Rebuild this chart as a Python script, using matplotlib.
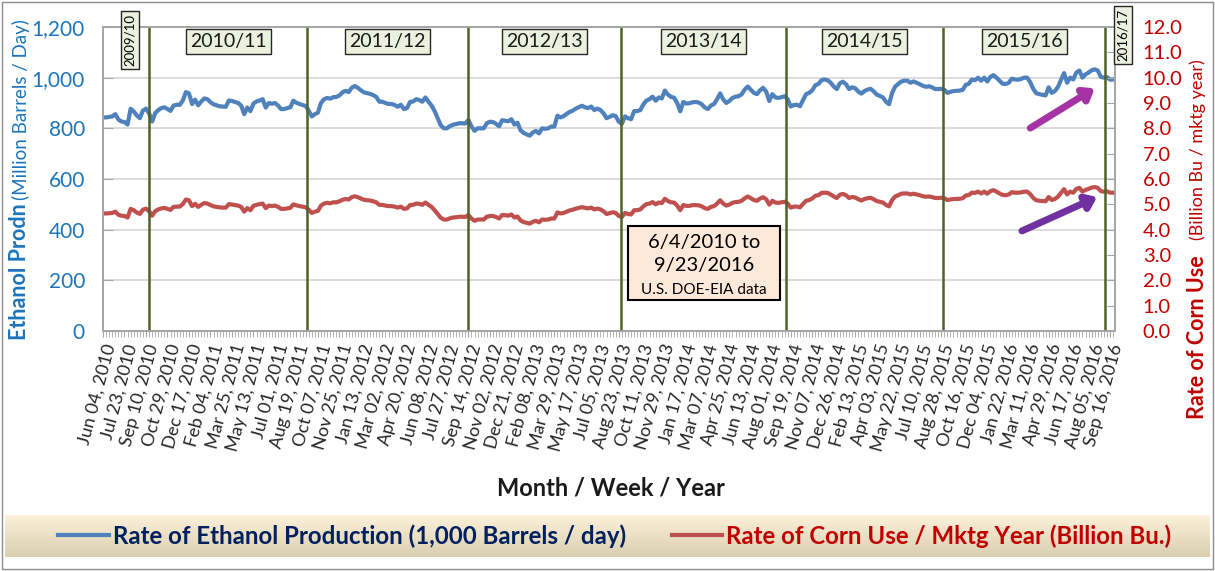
import numpy as np
import matplotlib.pyplot as plt
import matplotlib.ticker as mticker
from matplotlib.patches import Rectangle
from matplotlib.transforms import blended_transform_factory

plt.rcParams['font.family'] = ['Lato', 'DejaVu Sans']

# weekly ethanol production, 1,000 barrels / day (Jun 04 2010 .. Sep 23 2016)
ethanol = [
    843, 843, 845, 847, 856, 835, 827, 825, 815, 877,
    867, 851, 840, 870, 878, 860, 827, 860, 872, 880,
    883, 876, 869, 890, 893, 893, 910, 943, 938, 896,
    913, 891, 906, 918, 915, 903, 895, 891, 887, 886,
    885, 910, 908, 904, 900, 890, 856, 882, 868, 898,
    906, 910, 915, 882, 900, 897, 900, 890, 876, 876,
    880, 883, 909, 901, 896, 892, 888, 870, 847, 856,
    862, 900, 915, 920, 917, 923, 924, 930, 942, 948,
    943, 960, 967, 960, 950, 942, 939, 936, 931, 924,
    905, 905, 900, 896, 896, 892, 885, 893, 876, 880,
    904, 906, 915, 912, 905, 922, 905, 890, 868, 840,
    812, 800, 800, 809, 814, 817, 820, 820, 819, 833,
    808, 790, 800, 800, 800, 820, 826, 825, 818, 808,
    832, 830, 828, 836, 815, 822, 792, 782, 776, 771,
    784, 790, 780, 800, 798, 800, 807, 807, 850, 843,
    848, 857, 865, 870, 878, 884, 889, 883, 880, 886,
    872, 878, 872, 860, 840, 845, 852, 848, 826, 818,
    847, 840, 836, 868, 868, 872, 895, 910, 915, 925,
    909, 922, 918, 949, 933, 924, 921, 900, 867, 904,
    898, 899, 903, 904, 902, 895, 882, 876, 890, 896,
    915, 938, 914, 900, 908, 920, 925, 927, 934, 953,
    965, 952, 940, 935, 950, 960, 945, 908, 935, 922,
    920, 923, 927, 915, 886, 892, 893, 887, 912, 935,
    940, 950, 970, 975, 990, 993, 990, 980, 965, 955,
    978, 984, 974, 955, 962, 958, 945, 937, 947, 953,
    956, 946, 933, 928, 922, 905, 895, 940, 965, 975,
    985, 988, 988, 980, 985, 980, 974, 968, 964, 966,
    962, 955, 955, 956, 952, 940, 944, 947, 948, 949,
    952, 972, 976, 993, 990, 1000, 988, 1000, 985, 1003,
    1010, 1000, 988, 976, 975, 980, 996, 993, 992, 995,
    1000, 1000, 982, 955, 938, 935, 932, 930, 962, 940,
    947, 963, 990, 1018, 980, 1000, 993, 1020, 1028, 1000,
    1013, 1020, 1029, 1033, 1028, 1003, 1000, 1002, 992, 993,
]

# corn use rate, billion bushels / marketing year
corn_use = [
    4.64, 4.64, 4.65, 4.66, 4.71, 4.59, 4.55, 4.54, 4.48, 4.82,
    4.77, 4.68, 4.62, 4.79, 4.83, 4.73, 4.55, 4.73, 4.80, 4.84,
    4.86, 4.82, 4.78, 4.90, 4.91, 4.91, 5.01, 5.19, 5.16, 4.93,
    5.02, 4.90, 4.98, 5.05, 5.03, 4.97, 4.92, 4.90, 4.88, 4.87,
    4.87, 5.01, 4.99, 4.97, 4.95, 4.90, 4.71, 4.85, 4.77, 4.94,
    4.98, 5.01, 5.03, 4.85, 4.95, 4.93, 4.95, 4.90, 4.82, 4.82,
    4.84, 4.86, 5.00, 4.96, 4.93, 4.91, 4.88, 4.79, 4.66, 4.71,
    4.74, 4.95, 5.03, 5.06, 5.04, 5.08, 5.08, 5.12, 5.18, 5.21,
    5.19, 5.28, 5.32, 5.28, 5.23, 5.18, 5.16, 5.15, 5.12, 5.08,
    4.98, 4.98, 4.95, 4.93, 4.93, 4.91, 4.87, 4.91, 4.82, 4.84,
    4.97, 4.98, 5.03, 5.02, 4.98, 5.07, 4.98, 4.90, 4.77, 4.62,
    4.47, 4.40, 4.40, 4.45, 4.48, 4.49, 4.51, 4.51, 4.50, 4.58,
    4.44, 4.35, 4.40, 4.40, 4.40, 4.51, 4.54, 4.54, 4.50, 4.44,
    4.58, 4.57, 4.55, 4.60, 4.48, 4.52, 4.36, 4.30, 4.27, 4.24,
    4.31, 4.35, 4.29, 4.40, 4.39, 4.40, 4.44, 4.44, 4.68, 4.64,
    4.66, 4.71, 4.76, 4.79, 4.83, 4.86, 4.89, 4.86, 4.84, 4.87,
    4.80, 4.83, 4.80, 4.73, 4.62, 4.65, 4.69, 4.66, 4.54, 4.50,
    4.66, 4.62, 4.60, 4.77, 4.77, 4.80, 4.92, 5.01, 5.03, 5.09,
    5.00, 5.07, 5.05, 5.22, 5.13, 5.08, 5.07, 4.95, 4.77, 4.97,
    4.94, 4.94, 4.97, 4.97, 4.96, 4.92, 4.85, 4.82, 4.90, 4.93,
    5.03, 5.16, 5.03, 4.95, 4.99, 5.06, 5.09, 5.10, 5.14, 5.24,
    5.31, 5.24, 5.17, 5.14, 5.23, 5.28, 5.20, 4.99, 5.14, 5.07,
    5.06, 5.08, 5.10, 5.03, 4.87, 4.91, 4.91, 4.88, 5.02, 5.14,
    5.17, 5.23, 5.34, 5.36, 5.45, 5.46, 5.45, 5.39, 5.31, 5.25,
    5.38, 5.41, 5.36, 5.25, 5.29, 5.27, 5.20, 5.15, 5.21, 5.24,
    5.26, 5.20, 5.13, 5.10, 5.07, 4.98, 4.92, 5.17, 5.31, 5.36,
    5.42, 5.43, 5.43, 5.39, 5.42, 5.39, 5.36, 5.32, 5.30, 5.31,
    5.29, 5.25, 5.25, 5.26, 5.24, 5.17, 5.19, 5.21, 5.21, 5.22,
    5.24, 5.35, 5.37, 5.46, 5.45, 5.50, 5.43, 5.50, 5.42, 5.52,
    5.56, 5.50, 5.43, 5.37, 5.36, 5.39, 5.48, 5.46, 5.46, 5.47,
    5.50, 5.50, 5.40, 5.25, 5.16, 5.14, 5.13, 5.12, 5.29, 5.17,
    5.21, 5.30, 5.45, 5.60, 5.39, 5.50, 5.46, 5.61, 5.65, 5.50,
    5.57, 5.61, 5.66, 5.68, 5.65, 5.52, 5.50, 5.51, 5.46, 5.46,
]

tick_labels = [
    'Jun 04, 2010', 'Jul 23, 2010', 'Sep 10, 2010', 'Oct 29, 2010', 'Dec 17, 2010',
    'Feb 04, 2011', 'Mar 25, 2011', 'May 13, 2011', 'Jul 01, 2011', 'Aug 19, 2011',
    'Oct 07, 2011', 'Nov 25, 2011', 'Jan 13, 2012', 'Mar 02, 2012', 'Apr 20, 2012',
    'Jun 08, 2012', 'Jul 27, 2012', 'Sep 14, 2012', 'Nov 02, 2012', 'Dec 21, 2012',
    'Feb 08, 2013', 'Mar 29, 2013', 'May 17, 2013', 'Jul 05, 2013', 'Aug 23, 2013',
    'Oct 11, 2013', 'Nov 29, 2013', 'Jan 17, 2014', 'Mar 07, 2014', 'Apr 25, 2014',
    'Jun 13, 2014', 'Aug 01, 2014', 'Sep 19, 2014', 'Nov 07, 2014', 'Dec 26, 2014',
    'Feb 13, 2015', 'Apr 03, 2015', 'May 22, 2015', 'Jul 10, 2015', 'Aug 28, 2015',
    'Oct 16, 2015', 'Dec 04, 2015', 'Jan 22, 2016', 'Mar 11, 2016', 'Apr 29, 2016',
    'Jun 17, 2016', 'Aug 05, 2016', 'Sep 16, 2016',
]
tick_weeks = list(range(0, 323, 7)) + [328]

# marketing-year boundaries (week index) and labels
boundary_weeks = [15.0, 66.5, 119.0, 168.8, 222.5, 273.6, 326.4]
year_labels = ['2010/11', '2011/12', '2012/13', '2013/14', '2014/15', '2015/16']

W, H = 1215, 571
fig = plt.figure(figsize=(W / 100, H / 100), dpi=100)

# outer frame
fig.add_artist(Rectangle((0.002, 0.003), 0.996, 0.993, transform=fig.transFigure,
                         fill=False, edgecolor='#8C8C8C', lw=1))

ax = fig.add_axes([103 / W, 1 - 331 / H, (1115 - 103) / W, (331 - 27) / H])
ax2 = ax.twinx()

x = np.arange(len(ethanol))
l1, = ax.plot(x, ethanol, color='#4F81BD', lw=3, solid_joinstyle='round')
l2, = ax2.plot(x, corn_use, color='#C0504D', lw=3, solid_joinstyle='round')

ax.set_xlim(0, 329.6)
ax.set_ylim(0, 1200)
ax2.set_ylim(0, 12)

ax.set_yticks(range(0, 1201, 200))
ax.yaxis.set_major_formatter(mticker.FuncFormatter(lambda v, p: f'{int(v):,}'))
ax2.set_yticks(range(0, 13))
ax2.yaxis.set_major_formatter(mticker.FormatStrFormatter('%.1f'))

ax.yaxis.grid(True, color='#D9D9D9', lw=1.3)
ax.set_axisbelow(True)

ax.set_xticks(tick_weeks)
ax.set_xticklabels(tick_labels, rotation=75, ha='right', va='top',
                   rotation_mode='anchor', fontsize=13, color='#262626')
ax.xaxis.set_minor_locator(mticker.MultipleLocator(1))
ax.tick_params(axis='x', which='both', direction='out', length=4,
               color='#A6A6A6', pad=4)
ax.tick_params(axis='y', direction='in', length=7, color='#A6A6A6',
               labelcolor='#1C75BC', labelsize=15, pad=13)
ax2.tick_params(axis='y', direction='in', length=6, color='#A6A6A6',
                labelcolor='#C00000', labelsize=14.5, pad=20)
for a in (ax, ax2):
    for s in a.spines.values():
        s.set_color('#A6A6A6')
        s.set_linewidth(1.3)

for b in boundary_weeks:
    ax2.axvline(b, color='#4F6228', lw=1.8, zorder=2.5)

trans = blended_transform_factory(ax.transData, ax.transAxes)
box = dict(boxstyle='square,pad=0.22', fc='#EBF1DE', ec='#262626', lw=1)
for i, lab in enumerate(year_labels):
    mid = (boundary_weeks[i] + boundary_weeks[i + 1]) / 2
    ax2.text(mid, 0.952, lab, transform=trans, ha='center', va='center',
             fontsize=14, color='#1a1a1a', bbox=box, zorder=6)
ax2.text(boundary_weeks[0] - 6.2, 0.958, '2009/10', transform=trans, rotation=90,
         ha='center', va='center', fontsize=9.5, bbox=box, zorder=6, clip_on=False)
ax2.text(boundary_weeks[-1] + 5.8, 0.973, '2016/17', transform=trans, rotation=90,
         ha='center', va='center', fontsize=9.5, bbox=box, zorder=6, clip_on=False)

# trend arrows
ax.annotate('', xy=(323, 958), xytext=(302, 801),
            arrowprops=dict(arrowstyle='-|>,head_length=0.6,head_width=0.45',
                            color='#A633A6', lw=5, shrinkA=0, shrinkB=0))
ax.annotate('', xy=(323.8, 529), xytext=(299.3, 395),
            arrowprops=dict(arrowstyle='-|>,head_length=0.6,head_width=0.45',
                            color='#7030A0', lw=5, shrinkA=0, shrinkB=0))

# source note box
fig.add_artist(Rectangle((628 / W, 1 - 300 / H), 152 / W, 74 / H, transform=fig.transFigure,
                         facecolor='#FDE9D9', edgecolor='black', lw=1.5, zorder=5))
fig.text(704 / W, 1 - 242 / H, '6/4/2010 to', ha='center', va='center', fontsize=14.5, zorder=6)
fig.text(704 / W, 1 - 266 / H, '9/23/2016', ha='center', va='center', fontsize=14.5, zorder=6)
fig.text(704 / W, 1 - 290 / H, 'U.S. DOE-EIA data', ha='center', va='center', fontsize=11, zorder=6)

# axis titles
fig.text(20 / W, 1 - 272 / H, 'Ethanol Prodn', rotation=90, ha='center', va='center',
         fontsize=15.5, fontweight='bold', color='#1C75BC')
fig.text(21 / W, 1 - 110 / H, '(Million Barrels / Day)', rotation=90, ha='center', va='center',
         fontsize=13.5, color='#1C75BC')
fig.text(1198 / W, 1 - 337 / H, 'Rate of Corn Use', rotation=90, ha='center', va='center',
         fontsize=15.5, fontweight='bold', color='#C00000')
fig.text(1198 / W, 1 - 150 / H, '(Billion Bu / mktg year)', rotation=90, ha='center', va='center',
         fontsize=13, color='#C00000')
fig.text(611 / W, 1 - 488 / H, 'Month / Week / Year', ha='center', va='center',
         fontsize=17, fontweight='bold', color='#1a1a1a')

# legend band with gradient
lax = fig.add_axes([5 / W, 1 - 557 / H, 1205 / W, 42 / H])
grad = np.linspace(0, 1, 64).reshape(-1, 1)
top = np.array([252, 241, 218]) / 255
bot = np.array([218, 206, 176]) / 255
lax.imshow(top + grad[..., None] * (bot - top), aspect='auto', extent=(0, 1, 0, 1))
lax.set_axis_off()

leg = fig.legend([l1, l2],
                 ['Rate of Ethanol Production (1,000 Barrels / day)',
                  'Rate of Corn Use / Mktg Year (Billion Bu.)'],
                 loc='center', bbox_to_anchor=(0.506, 1 - 536 / H), ncol=2,
                 frameon=False, fontsize=17.3, handlelength=2.1, handletextpad=0.17,
                 columnspacing=1.9)
for t, c in zip(leg.get_texts(), ['#002060', '#C00000']):
    t.set_color(c)
    t.set_fontweight('bold')

fig.savefig('out.png', dpi=100)
